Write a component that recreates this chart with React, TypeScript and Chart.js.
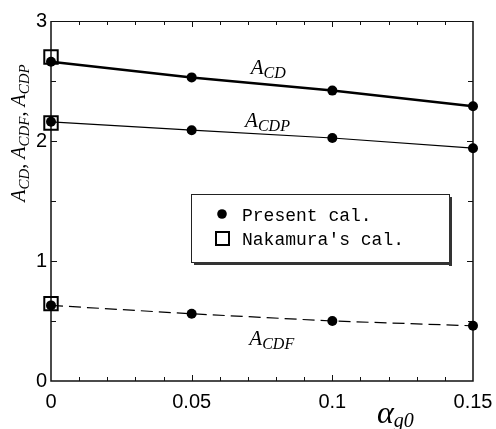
import { useEffect, useRef } from "react";
import { Chart, registerables } from "chart.js";

Chart.register(...registerables);

// ---- data ----
const alphaG0 = [0, 0.05, 0.1, 0.15];
const aCD = [2.66, 2.53, 2.42, 2.29];
const aCDP = [2.16, 2.09, 2.025, 1.94];
const aCDF = [0.63, 0.56, 0.5, 0.46];
const nakamuraX = [0, 0, 0];
const nakamuraY = [2.7, 2.15, 0.645];
const xTicks = [0, 0.05, 0.1, 0.15];
const yTicks = [0, 1, 2, 3];
const legendLabels = ["Present cal.", "Nakamura's cal."];

const SERIF = "'Liberation Serif', 'Times New Roman', serif";
const SANS = "'Liberation Sans', Arial, sans-serif";
const MONO = "'Liberation Mono', 'Courier New', monospace";

type Seg = { t: string; size: number; dy: number };

function richWidth(ctx: CanvasRenderingContext2D, segs: Seg[]) {
  let w = 0;
  for (const s of segs) {
    ctx.font = `italic ${s.size}px ${SERIF}`;
    w += ctx.measureText(s.t).width;
  }
  return w;
}

function drawRich(ctx: CanvasRenderingContext2D, segs: Seg[], x: number, y: number) {
  let cx = x;
  ctx.textAlign = "left";
  ctx.textBaseline = "alphabetic";
  for (const s of segs) {
    ctx.font = `italic ${s.size}px ${SERIF}`;
    ctx.fillText(s.t, cx, y + s.dy);
    cx += ctx.measureText(s.t).width;
  }
}

const sub = (main: string, s: string, big = 21, small = 16): Seg[] => [
  { t: main, size: big, dy: 0 },
  { t: s, size: small, dy: 4 },
];

const framePlugin = {
  id: "frameTicks",
  beforeDatasetsDraw(chart: any) {
    const { ctx, chartArea: a, scales } = chart;
    const xs = scales.x;
    const ys = scales.y;
    ctx.save();
    ctx.strokeStyle = "#111";
    ctx.lineWidth = 1.5;
    ctx.beginPath();
    ctx.moveTo(a.left, a.top);
    ctx.lineTo(a.left, a.bottom);
    ctx.lineTo(a.right, a.bottom);
    ctx.lineTo(a.right, a.top);
    ctx.stroke();
    ctx.lineWidth = 1;
    ctx.beginPath();
    ctx.moveTo(a.left, a.top + 0.5);
    ctx.lineTo(a.right, a.top + 0.5);
    ctx.stroke();
    ctx.lineWidth = 1;
    for (let i = 1; i < 15; i++) {
      const px = Math.round(xs.getPixelForValue(i / 100)) + 0.5;
      const len = i % 5 === 0 ? 6 : 4;
      ctx.beginPath();
      ctx.moveTo(px, a.bottom);
      ctx.lineTo(px, a.bottom - len);
      ctx.moveTo(px, a.top);
      ctx.lineTo(px, a.top + len);
      ctx.stroke();
    }
    for (let i = 1; i < 6; i++) {
      const py = Math.round(ys.getPixelForValue(i / 2)) + 0.5;
      const len = i % 2 === 0 ? 6 : 5;
      ctx.beginPath();
      ctx.moveTo(a.left, py);
      ctx.lineTo(a.left + len, py);
      ctx.moveTo(a.right, py);
      ctx.lineTo(a.right - len, py);
      ctx.stroke();
    }
    ctx.restore();
  },
  afterDraw(chart: any) {
    const { ctx, chartArea: a, scales } = chart;
    const xs = scales.x;
    const ys = scales.y;
    ctx.save();
    ctx.fillStyle = "#000";
    // curve labels
    drawRich(ctx, sub("A", "CD"), xs.getPixelForValue(0.071), ys.getPixelForValue(2.56));
    drawRich(ctx, sub("A", "CDP"), xs.getPixelForValue(0.069), ys.getPixelForValue(2.12));
    drawRich(ctx, sub("A", "CDF"), xs.getPixelForValue(0.0705), ys.getPixelForValue(0.3));

    // y axis title (rotated)
    const ySegs: Seg[] = [
      ...sub("A", "CD", 20, 15),
      { t: ", ", size: 20, dy: 0 },
      ...sub("A", "CDF", 20, 15),
      { t: ", ", size: 20, dy: 0 },
      ...sub("A", "CDP", 20, 15),
    ];
    const yw = richWidth(ctx, ySegs);
    ctx.save();
    ctx.translate(a.left - 26, (a.top + a.bottom) / 2 - 68);
    ctx.rotate(-Math.PI / 2);
    drawRich(ctx, ySegs, -yw / 2, 0);
    ctx.restore();

    // x axis title
    const xSegs: Seg[] = [
      { t: "\u03B1", size: 32, dy: 0 },
      { t: "g0", size: 20, dy: 4 },
    ];
    drawRich(ctx, xSegs, a.left + 326, a.bottom + 42);

    // legend
    const lx = a.left + 140;
    const ly = a.top + 173;
    const lw = 258;
    const lh = 68;
    ctx.fillStyle = "#fff";
    ctx.fillRect(lx, ly, lw, lh);
    ctx.strokeStyle = "#222";
    ctx.lineWidth = 1;
    ctx.strokeRect(lx + 0.5, ly + 0.5, lw, lh);
    ctx.fillStyle = "#333";
    ctx.fillRect(lx + lw, ly + 3, 3, lh + 1);
    ctx.fillRect(lx + 3, ly + lh, lw, 3);
    ctx.fillStyle = "#000";
    ctx.beginPath();
    ctx.arc(lx + 31, ly + 20, 4.8, 0, Math.PI * 2);
    ctx.fill();
    ctx.lineWidth = 2;
    ctx.strokeStyle = "#000";
    ctx.strokeRect(lx + 25, ly + 38, 13, 13);
    ctx.font = `18px ${MONO}`;
    ctx.textAlign = "left";
    ctx.textBaseline = "alphabetic";
    ctx.fillText(legendLabels[0], lx + 51, ly + 27);
    ctx.fillText(legendLabels[1], lx + 51, ly + 51);
    ctx.restore();
  },
};

export default function App() {
  const ref = useRef<HTMLCanvasElement | null>(null);
  useEffect(() => {
    if (!ref.current) return;
    const pts = (ys: number[]) => alphaG0.map((x, i) => ({ x, y: ys[i] }));
    const common = {
      borderColor: "#000",
      backgroundColor: "#000",
      pointBackgroundColor: "#000",
      pointBorderColor: "#000",
      pointRadius: 5,
      pointBorderWidth: 0,
      pointStyle: "circle",
      clip: false as const,
      fill: false,
      tension: 0,
    };
    const chart = new Chart(ref.current, {
      type: "line",
      data: {
        datasets: [
          { ...common, label: "A_CD", data: pts(aCD), borderWidth: 2.5 },
          { ...common, label: "A_CDP", data: pts(aCDP), borderWidth: 1.2 },
          { ...common, label: "A_CDF", data: pts(aCDF), borderWidth: 1.2, borderDash: [12, 6] },
          {
            label: "Nakamura's cal.",
            data: nakamuraX.map((x, i) => ({ x, y: nakamuraY[i] })),
            showLine: false,
            pointStyle: "rect",
            pointRadius: 9.5,
            pointBorderWidth: 2,
            pointBorderColor: "#000",
            pointBackgroundColor: "rgba(0,0,0,0)",
            borderColor: "#000",
            backgroundColor: "rgba(0,0,0,0)",
            clip: false as const,
          },
        ],
      },
      options: {
        responsive: false,
        animation: false,
        devicePixelRatio: 1,
        layout: { padding: { left: 11, top: 21, right: 23, bottom: 0 } },
        plugins: { legend: { display: false }, tooltip: { enabled: false } },
        scales: {
          x: {
            type: "linear",
            min: 0,
            max: 0.15,
            grid: { display: false, drawTicks: false },
            border: { display: false },
            afterBuildTicks: (s: any) => {
              s.ticks = xTicks.map((v) => ({ value: v }));
            },
            afterFit: (s: any) => {
              s.height = 48;
              s.paddingLeft = 0;
              s.paddingRight = 0;
            },
            ticks: {
              padding: 9,
              color: "#000",
              maxRotation: 0,
              autoSkip: false,
              font: { family: SANS, size: 20 },
              callback: (v: any) => String(+Number(v).toFixed(2)),
            },
          },
          y: {
            type: "linear",
            min: 0,
            max: 3,
            grid: { display: false, drawTicks: false },
            border: { display: false },
            afterBuildTicks: (s: any) => {
              s.ticks = yTicks.map((v) => ({ value: v }));
            },
            afterFit: (s: any) => {
              s.width = 40;
              s.paddingTop = 0;
              s.paddingBottom = 0;
            },
            ticks: {
              padding: 4,
              color: "#000",
              autoSkip: false,
              font: { family: SANS, size: 20 },
              callback: (v: any) => String(v),
            },
          },
        },
      },
      plugins: [framePlugin],
    });
    return () => chart.destroy();
  }, []);
  return (
    <canvas
      ref={ref}
      width={496}
      height={429}
      style={{ position: "absolute", left: 0, top: 0, width: 496, height: 429 }}
    />
  );
}
